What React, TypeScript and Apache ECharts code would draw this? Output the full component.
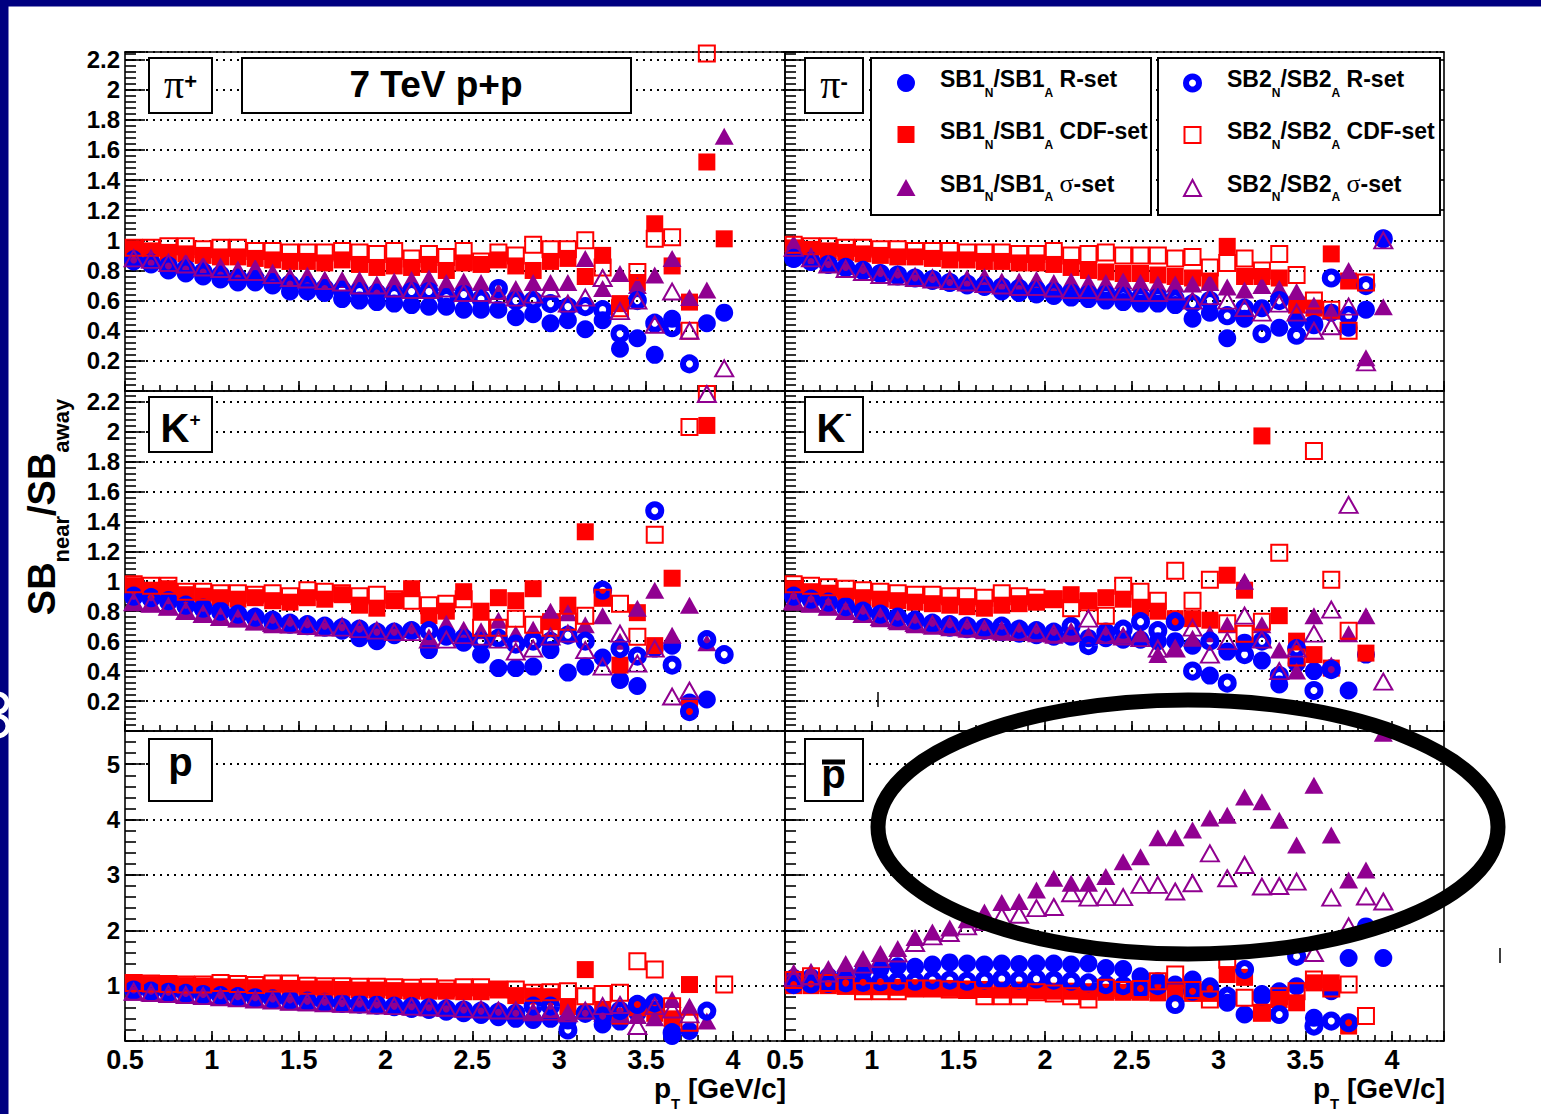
import React, { useEffect, useRef } from "react";
import * as echarts from "echarts";

// transverse momentum bin centres (GeV/c)
const PT = [0.55, 0.65, 0.75, 0.85, 0.95, 1.05, 1.15, 1.25, 1.35, 1.45, 1.55, 1.65, 1.75, 1.85, 1.95, 2.05, 2.15, 2.25, 2.35, 2.45, 2.55, 2.65, 2.75, 2.85, 2.95, 3.05, 3.15, 3.25, 3.35, 3.45, 3.55, 3.65, 3.75, 3.85, 3.95];

// ---- pi+ ----
const PIP_SB1_R = [0.86, 0.84, 0.80, 0.78, 0.76, 0.74, 0.72, 0.72, 0.70, 0.66, 0.66, 0.65, 0.61, 0.60, 0.59, 0.58, 0.57, 0.56, 0.56, 0.54, 0.54, 0.54, 0.49, 0.51, 0.45, 0.47, 0.41, 0.47, 0.28, 0.35, 0.24, 0.48, null, 0.45, 0.52];
const PIP_SB1_CDF = [0.94, 0.93, 0.92, 0.91, 0.90, 0.89, 0.89, 0.88, 0.87, 0.86, 0.86, 0.85, 0.87, 0.84, 0.82, 0.83, 0.82, 0.84, 0.80, 0.85, 0.84, 0.87, 0.83, 0.80, 0.86, 0.88, 0.76, 0.90, 0.58, 0.72, 1.11, 0.83, 0.59, 1.52, 1.01];
const PIP_SB1_SIG = [0.89, 0.89, 0.86, 0.86, 0.84, 0.83, 0.81, 0.82, 0.79, 0.76, 0.77, 0.74, 0.74, 0.74, 0.70, 0.73, 0.74, 0.75, 0.72, 0.73, 0.72, 0.66, 0.68, 0.72, 0.72, 0.72, 0.88, 0.68, 0.78, 0.70, 0.77, 0.88, 0.62, 0.67, 1.69];
const PIP_SB2_R = [0.87, 0.85, 0.83, 0.81, 0.79, 0.77, 0.75, 0.74, 0.72, 0.71, 0.70, 0.68, 0.67, 0.66, 0.65, 0.64, 0.66, 0.66, 0.62, 0.64, 0.61, 0.68, 0.60, 0.60, 0.58, 0.56, 0.56, 0.54, 0.38, 0.60, 0.45, 0.42, 0.18, null, null];
const PIP_SB2_CDF = [0.95, 0.95, 0.96, 0.96, 0.94, 0.95, 0.95, 0.93, 0.93, 0.92, 0.92, 0.92, 0.93, 0.92, 0.91, 0.93, 0.88, 0.91, 0.89, 0.93, 0.86, 0.92, 0.90, 0.97, 0.94, 0.94, 1.00, 0.82, 0.55, 0.79, 1.01, 1.02, 0.40, 2.24, null];
const PIP_SB2_SIG = [0.88, 0.87, 0.85, 0.84, 0.82, 0.81, 0.79, 0.79, 0.77, 0.75, 0.74, 0.73, 0.72, 0.70, 0.70, 0.68, 0.67, 0.67, 0.68, 0.65, 0.65, 0.64, 0.62, 0.64, 0.68, 0.58, 0.62, 0.75, 0.53, 0.60, 0.44, 0.66, 0.40, null, 0.15];

// ---- pi- ----
const PIM_SB1_R = [0.88, 0.86, 0.84, 0.82, 0.80, 0.78, 0.76, 0.75, 0.73, 0.72, 0.70, 0.69, 0.66, 0.65, 0.64, 0.63, 0.62, 0.61, 0.60, 0.59, 0.58, 0.58, 0.57, 0.48, 0.52, 0.35, 0.48, 0.55, 0.42, 0.47, 0.45, 0.52, 0.42, 0.54, 1.01];
const PIM_SB1_CDF = [0.95, 0.94, 0.93, 0.92, 0.91, 0.90, 0.89, 0.89, 0.88, 0.87, 0.87, 0.86, 0.86, 0.85, 0.85, 0.84, 0.82, 0.80, 0.79, 0.78, 0.78, 0.77, 0.76, 0.75, 0.73, 0.96, 0.76, 0.76, 0.75, 0.57, 0.55, 0.91, 0.73, null, null];
const PIM_SB1_SIG = [0.98, 0.90, 0.85, 0.83, 0.81, 0.79, 0.78, 0.77, 0.76, 0.75, 0.75, 0.76, 0.73, 0.73, 0.74, 0.72, 0.73, 0.72, 0.72, 0.73, 0.72, 0.71, 0.71, 0.71, 0.72, 0.69, 0.67, 0.70, 0.68, 0.66, 0.57, 0.53, 0.80, 0.22, 0.56];
const PIM_SB2_R = [0.88, 0.86, 0.84, 0.82, 0.80, 0.78, 0.77, 0.75, 0.74, 0.72, 0.71, 0.70, 0.69, 0.68, 0.67, 0.66, 0.65, 0.64, 0.64, 0.63, 0.62, 0.62, 0.61, 0.58, 0.60, 0.50, 0.55, 0.38, 0.60, 0.37, 0.44, 0.75, 0.50, 0.70, 1.01];
const PIM_SB2_CDF = [0.97, 0.96, 0.96, 0.95, 0.95, 0.94, 0.94, 0.93, 0.93, 0.93, 0.92, 0.92, 0.92, 0.91, 0.91, 0.93, 0.90, 0.91, 0.92, 0.90, 0.90, 0.90, 0.88, 0.89, 0.82, 0.85, 0.88, 0.80, 0.91, 0.77, 0.60, 0.54, 0.40, 0.72, null];
const PIM_SB2_SIG = [0.95, 0.88, 0.84, 0.81, 0.79, 0.77, 0.76, 0.75, 0.74, 0.73, 0.72, 0.71, 0.70, 0.69, 0.69, 0.68, 0.67, 0.67, 0.66, 0.66, 0.65, 0.65, 0.66, 0.60, 0.63, 0.60, 0.55, 0.52, 0.58, 0.52, 0.40, 0.43, 0.56, 0.19, 1.00];

// ---- K+ ----
const KP_SB1_R = [0.89, 0.88, 0.86, 0.83, 0.81, 0.79, 0.77, 0.75, 0.72, 0.71, 0.70, 0.69, 0.67, 0.62, 0.60, 0.64, 0.67, 0.54, 0.63, 0.59, 0.51, 0.42, 0.42, 0.43, 0.54, 0.39, 0.43, 0.49, 0.34, 0.30, 0.55, 0.57, 0.19, 0.21, null];
const KP_SB1_CDF = [0.97, 0.94, 0.95, 0.91, 0.90, 0.89, 0.88, 0.89, 0.87, 0.86, 0.89, 0.88, 0.91, 0.84, 0.82, 0.87, 0.95, 0.77, 0.80, 0.93, 0.80, 0.89, 0.87, 0.95, 0.73, 0.84, 1.33, 0.89, 0.44, 0.79, 0.57, 1.02, 0.15, 2.04, null];
const KP_SB1_SIG = [0.86, 0.85, 0.83, 0.80, 0.78, 0.76, 0.75, 0.73, 0.71, 0.71, 0.70, 0.70, 0.71, 0.68, 0.67, 0.67, 0.68, 0.63, 0.72, 0.68, 0.67, 0.74, 0.65, 0.68, 0.80, 0.79, 0.71, 0.77, 0.60, 0.82, 0.94, 0.64, 0.84, 0.59, null];
const KP_SB2_R = [0.90, 0.89, 0.87, 0.84, 0.82, 0.80, 0.78, 0.76, 0.74, 0.72, 0.71, 0.70, 0.69, 0.68, 0.66, 0.66, 0.67, 0.67, 0.64, 0.62, 0.60, 0.62, 0.58, 0.60, 0.60, 0.64, 0.60, 0.94, 0.55, 0.50, 1.47, 0.44, 0.13, 0.61, 0.51];
const KP_SB2_CDF = [0.98, 0.97, 0.97, 0.93, 0.93, 0.92, 0.92, 0.91, 0.92, 0.90, 0.94, 0.93, 0.92, 0.90, 0.91, 0.88, 0.87, 0.84, 0.85, 0.88, 0.69, 0.69, 0.75, 0.71, 0.69, 0.73, 0.77, 0.89, 0.85, 0.63, 1.31, null, 2.03, 2.25, null];
const KP_SB2_SIG = [0.86, 0.85, 0.83, 0.80, 0.78, 0.76, 0.75, 0.73, 0.72, 0.71, 0.70, 0.69, 0.69, 0.68, 0.67, 0.66, 0.66, 0.61, 0.61, 0.64, 0.63, 0.61, 0.53, 0.55, 0.63, 0.65, 0.54, 0.43, 0.65, 0.45, 0.55, 0.23, 0.27, 2.25, null];

// ---- K- ----
const KM_SB1_R = [0.89, 0.87, 0.85, 0.82, 0.79, 0.77, 0.75, 0.73, 0.71, 0.69, 0.68, 0.67, 0.66, 0.65, 0.64, 0.63, 0.63, 0.62, 0.62, 0.61, 0.61, 0.60, 0.60, 0.57, 0.37, 0.53, 0.59, 0.47, 0.31, 0.45, 0.40, 0.42, 0.27, 0.51, null];
const KM_SB1_CDF = [0.95, 0.93, 0.92, 0.90, 0.89, 0.88, 0.87, 0.86, 0.85, 0.84, 0.83, 0.82, 0.84, 0.85, 0.86, 0.88, 0.91, 0.87, 0.89, 0.88, 0.82, 0.80, 0.75, 0.75, 0.74, 1.04, 0.94, 1.97, 0.77, 0.60, 0.51, 0.42, null, 0.52, null];
const KM_SB1_SIG = [0.86, 0.85, 0.83, 0.80, 0.78, 0.75, 0.73, 0.71, 0.70, 0.69, 0.68, 0.67, 0.66, 0.66, 0.65, 0.64, 0.65, 0.64, 0.65, 0.64, 0.65, 0.51, 0.55, 0.62, 0.65, 0.71, 1.00, 0.71, 0.54, 0.40, 0.77, 0.44, 0.65, 0.77, null];
const KM_SB2_R = [0.90, 0.88, 0.86, 0.83, 0.80, 0.78, 0.76, 0.74, 0.72, 0.71, 0.70, 0.69, 0.70, 0.68, 0.67, 0.66, 0.70, 0.57, 0.66, 0.68, 0.73, 0.67, 0.73, 0.40, 0.60, 0.32, 0.51, 0.60, 0.37, 0.55, 0.27, 0.41, null, null, null];
const KM_SB2_CDF = [0.98, 0.97, 0.96, 0.95, 0.94, 0.93, 0.92, 0.91, 0.91, 0.90, 0.90, 0.89, 0.92, 0.90, 0.89, 0.88, 0.82, 0.86, 0.77, 0.97, 0.93, 0.87, 1.07, 0.87, 1.01, 0.72, 0.65, 0.73, 1.19, 0.49, 1.87, 1.01, 0.67, null, null];
const KM_SB2_SIG = [0.87, 0.85, 0.83, 0.80, 0.78, 0.76, 0.74, 0.72, 0.71, 0.70, 0.69, 0.68, 0.67, 0.66, 0.66, 0.65, 0.66, 0.75, 0.64, 0.63, 0.62, 0.55, 0.55, 0.69, 0.51, 0.60, 0.77, 0.61, 0.40, 0.55, 0.65, 0.81, 1.51, null, 0.33];

// ---- p ----
const P_SB1_R = [0.93, 0.91, 0.89, 0.87, 0.85, 0.83, 0.80, 0.78, 0.76, 0.74, 0.72, 0.70, 0.68, 0.66, 0.64, 0.61, 0.58, 0.56, 0.53, 0.50, 0.47, 0.43, 0.40, 0.38, 0.40, 0.37, 0.51, 0.30, 0.35, 0.50, 0.57, 0.09, 0.18, null, null];
const P_SB1_CDF = [1.03, 1.02, 1.01, 1.00, 0.99, 0.98, 0.97, 0.96, 0.96, 0.95, 0.94, 0.94, 0.93, 0.92, 0.92, 0.91, 0.90, 0.90, 0.90, 0.89, 0.89, 0.93, 0.82, 0.81, 0.80, 0.62, 1.29, 0.57, 0.45, 0.60, 0.50, 0.40, 1.02, null, null];
const P_SB1_SIG = [0.88, 0.86, 0.85, 0.83, 0.81, 0.79, 0.77, 0.75, 0.73, 0.71, 0.69, 0.68, 0.67, 0.66, 0.64, 0.63, 0.61, 0.60, 0.59, 0.58, 0.57, 0.57, 0.57, 0.53, 0.57, 0.50, 0.54, 0.50, 0.48, 0.46, 0.42, 0.75, 0.63, 0.36, null];
const P_SB2_R = [0.92, 0.90, 0.88, 0.86, 0.84, 0.82, 0.80, 0.78, 0.76, 0.74, 0.72, 0.70, 0.68, 0.67, 0.65, 0.63, 0.62, 0.60, 0.58, 0.56, 0.54, 0.52, 0.50, 0.63, 0.63, 0.20, 0.50, 0.45, 0.55, 0.66, 0.69, 0.15, null, 0.54, null];
const P_SB2_CDF = [1.05, 1.04, 1.03, 1.02, 1.02, 1.05, 1.03, 1.01, 1.04, 1.04, 1.00, 0.99, 0.99, 0.98, 0.98, 0.97, 0.96, 0.97, 0.95, 0.97, 0.97, 0.93, 0.93, 0.87, 0.88, 0.90, 0.81, 0.85, 0.87, 1.44, 1.29, 0.63, 0.33, null, 1.02];
const P_SB2_SIG = [0.89, 0.87, 0.85, 0.83, 0.81, 0.79, 0.77, 0.75, 0.73, 0.71, 0.70, 0.68, 0.67, 0.66, 0.64, 0.63, 0.62, 0.61, 0.60, 0.58, 0.57, 0.55, 0.55, 0.52, 0.53, 0.50, 0.55, 0.63, 0.65, 0.27, 0.63, 0.57, 0.48, null, null];

// ---- p-bar ----
const PB_SB1_R = [1.14, 1.15, 1.17, 1.20, 1.26, 1.30, 1.35, 1.34, 1.38, 1.42, 1.40, 1.38, 1.40, 1.39, 1.40, 1.40, 1.38, 1.40, 1.32, 1.30, 1.17, 1.08, 1.02, 1.11, 0.99, 0.69, 0.48, 0.85, 0.90, 0.99, 0.42, 0.90, 1.50, 2.07, 1.50];
const PB_SB1_CDF = [1.00, 1.00, 1.00, 0.99, 0.98, 0.98, 0.97, 0.96, 0.95, 0.95, 0.94, 0.93, 0.92, 0.92, 0.91, 0.90, 0.90, 0.89, 0.88, 0.88, 0.88, 0.87, 0.87, 0.86, 0.86, 1.20, 1.15, 0.51, 0.75, 0.69, 1.05, 1.05, 0.27, null, null];
const PB_SB1_SIG = [1.24, 1.26, 1.31, 1.40, 1.49, 1.58, 1.67, 1.87, 1.97, 2.04, 2.19, 2.33, 2.50, 2.52, 2.73, 2.94, 2.85, 2.85, 2.97, 3.24, 3.33, 3.67, 3.67, 3.81, 4.03, 4.08, 4.41, 4.32, 3.99, 3.54, 4.62, 3.72, 2.91, 3.09, 5.56];
const PB_SB2_R = [1.02, 1.03, 1.04, 1.05, 1.06, 1.07, 1.08, 1.08, 1.10, 1.10, 1.08, 1.10, 1.12, 1.10, 1.12, 1.10, 1.08, 1.05, 1.02, 1.00, 0.95, 1.00, 0.66, 0.90, 0.95, 0.81, 1.29, 0.81, 0.48, 1.53, 0.27, 0.36, 0.33, null, null];
const PB_SB2_CDF = [1.10, 1.17, 1.05, 1.00, 0.90, 0.90, 0.90, 0.95, 0.95, 0.93, 0.92, 0.81, 0.81, 0.81, 0.88, 0.86, 0.81, 0.75, 0.96, 0.92, 0.94, 1.08, 1.20, 0.92, 0.75, 1.47, 0.78, 0.51, 0.81, 0.90, 1.11, 0.95, 1.02, 0.45, null];
const PB_SB2_SIG = [1.14, 1.17, 1.22, 1.30, 1.38, 1.48, 1.58, 1.77, 1.89, 1.95, 2.07, 2.15, 2.25, 2.28, 2.40, 2.42, 2.67, 2.59, 2.60, 2.60, 2.82, 2.82, 2.70, 2.85, 3.39, 2.94, 3.18, 2.79, 2.80, 2.88, 1.59, 2.59, 2.07, 2.61, 2.52];

const SERIES_NAMES = ["SB1N/SB1A R-set", "SB1N/SB1A CDF-set", "SB1N/SB1A σ-set", "SB2N/SB2A R-set", "SB2N/SB2A CDF-set", "SB2N/SB2A σ-set"];

const PANELS = [
  { row: 0, col: 0, sets: [PIP_SB1_R, PIP_SB1_CDF, PIP_SB1_SIG, PIP_SB2_R, PIP_SB2_CDF, PIP_SB2_SIG] },
  { row: 0, col: 1, sets: [PIM_SB1_R, PIM_SB1_CDF, PIM_SB1_SIG, PIM_SB2_R, PIM_SB2_CDF, PIM_SB2_SIG] },
  { row: 1, col: 0, sets: [KP_SB1_R, KP_SB1_CDF, KP_SB1_SIG, KP_SB2_R, KP_SB2_CDF, KP_SB2_SIG] },
  { row: 1, col: 1, sets: [KM_SB1_R, KM_SB1_CDF, KM_SB1_SIG, KM_SB2_R, KM_SB2_CDF, KM_SB2_SIG] },
  { row: 2, col: 0, sets: [P_SB1_R, P_SB1_CDF, P_SB1_SIG, P_SB2_R, P_SB2_CDF, P_SB2_SIG] },
  { row: 2, col: 1, sets: [PB_SB1_R, PB_SB1_CDF, PB_SB1_SIG, PB_SB2_R, PB_SB2_CDF, PB_SB2_SIG] },
];

// axis ranges
const X_MIN = 0.5;
const X_MAX = 4.3;
const ROW_YMAX = [2.25, 2.27, 5.6];
const ROW_MAJOR = [0.2, 0.2, 1];
const ROW_MINOR = [0.04, 0.04, 0.2];

// layout
const COL_LEFT = [125, 785];
const COL_WIDTH = [660, 659];
const ROW_TOP = [52, 391, 731];
const ROW_HEIGHT = [339, 340, 310];

const BLUE = "#0000ff";
const RED = "#ff0000";
const PURPLE = "#900090";
const NAVY = "#000080";
const FONT = "'Liberation Sans', Arial, Helvetica, sans-serif";
const SERIF = "'Liberation Serif', 'DejaVu Serif', serif";
const CLEAR = "rgba(255,255,255,0)";

const MARKERS: any[] = [
  { symbol: "circle", symbolSize: 18, itemStyle: { color: BLUE, opacity: 1 } },
  { symbol: "rect", symbolSize: 17, itemStyle: { color: RED, opacity: 1 } },
  { symbol: "triangle", symbolSize: [19, 17], itemStyle: { color: PURPLE, opacity: 1 } },
  { symbol: "circle", symbolSize: 13, itemStyle: { color: CLEAR, borderColor: BLUE, borderWidth: 6, opacity: 1 } },
  { symbol: "rect", symbolSize: 16, itemStyle: { color: CLEAR, borderColor: RED, borderWidth: 2, opacity: 1 } },
  { symbol: "triangle", symbolSize: [18, 16], itemStyle: { color: CLEAR, borderColor: PURPLE, borderWidth: 2, opacity: 1 } },
];

const toPoints = (vals: (number | null)[]) =>
  PT.map((x, i) => [x, vals[i]]).filter((d) => d[1] !== null && d[1] !== undefined);

const fmtX = (v: number) => (v > 4.05 ? "" : String(Math.round(v * 10) / 10));
const fmtY = (step: number) => (v: number) => {
  const k = v / step;
  if (v < step * 0.5 || Math.abs(k - Math.round(k)) > 1e-6) return "";
  return String(Math.round(v * 10) / 10);
};

function box(x: number, y: number, w: number, h: number) {
  return { type: "rect", z: 100, shape: { x, y, width: w, height: h }, style: { fill: "#fff", stroke: "#000", lineWidth: 2 } };
}

const LAB_RICH = {
  g: { fontFamily: SERIF, fontSize: 40, height: 40, verticalAlign: "top", fill: "#000" },
  k: { fontFamily: FONT, fontWeight: "bold", fontSize: 40, height: 40, verticalAlign: "top", fill: "#000" },
  supP: { fontFamily: FONT, fontWeight: "bold", fontSize: 22, height: 34, verticalAlign: "top", fill: "#000" },
  supK: { fontFamily: FONT, fontWeight: "bold", fontSize: 19, height: 23, verticalAlign: "top", fill: "#000" },
  supM: { fontFamily: FONT, fontWeight: "bold", fontSize: 19, height: 12, verticalAlign: "top", fill: "#000" },
};

const LEG_RICH = {
  m: { fontFamily: FONT, fontWeight: "bold", fontSize: 23, height: 23, verticalAlign: "top", fill: "#000" },
  s: { fontFamily: FONT, fontWeight: "bold", fontSize: 12, height: 50, verticalAlign: "top", fill: "#000" },
  g: { fontFamily: SERIF, fontSize: 26, height: 23, verticalAlign: "top", fill: "#000" },
};

function richText(x: number, y: number, text: string, rich: any, align = "center", extra: any = {}) {
  return { type: "text", z: 101, x, y, ...extra, style: { text, rich, align, verticalAlign: "top", fill: "#000" } };
}

function buildGraphic() {
  const els: any[] = [];
  // slide frame
  els.push({ type: "rect", z: 200, shape: { x: 0, y: 0, width: 1541, height: 6.5 }, style: { fill: NAVY } });
  els.push({ type: "rect", z: 200, shape: { x: 0, y: 0, width: 8.5, height: 1114 }, style: { fill: NAVY } });
  // fragment of a white slide glyph peeking in on the left border
  els.push({ type: "arc", z: 201, shape: { cx: -2, cy: 703, r: 9, startAngle: -Math.PI / 2, endAngle: Math.PI / 2 }, style: { stroke: "#fff", lineWidth: 5, fill: "none" } });
  els.push({ type: "arc", z: 201, shape: { cx: -2, cy: 726, r: 10, startAngle: -Math.PI / 2, endAngle: Math.PI / 2 }, style: { stroke: "#fff", lineWidth: 5, fill: "none" } });

  // panel label boxes
  els.push(box(149, 58, 63, 55));
  els.push(richText(180.5, 64.7, "{g|π}{supP|+}", LAB_RICH));
  els.push(box(242, 58, 389, 55));
  els.push({ type: "text", z: 101, x: 436, y: 84.5, style: { text: "7 TeV p+p", fontFamily: FONT, fontWeight: "bold", fontSize: 37, fill: "#000", align: "center", verticalAlign: "middle" } });
  els.push(box(805, 58, 58, 55));
  els.push(richText(834, 64.7, "{g|π}{supP|-}", LAB_RICH));
  els.push(box(149, 397, 63, 55));
  els.push(richText(180.5, 407.5, "{k|K}{supK|+}", LAB_RICH));
  els.push(box(805, 397, 58, 55));
  els.push(richText(834, 407.5, "{k|K}{supM|-}", LAB_RICH));
  els.push(box(149, 739, 63, 62));
  els.push(richText(180.5, 742, "{k|p}", LAB_RICH));
  els.push(box(805, 739, 58, 62));
  els.push(richText(833.5, 754, "{k|p}", LAB_RICH));
  els.push({ type: "rect", z: 102, shape: { x: 822, y: 759.5, width: 23, height: 5 }, style: { fill: "#000" } });

  // legend boxes
  els.push(box(871, 58, 280, 157));
  els.push(box(1158, 58, 282, 157));
  const textRows = [79, 131, 183.5];
  const labels = ["R-set", "CDF-set", "σ"];
  [0, 1].forEach((b) => {
    const n = b === 0 ? "1" : "2";
    const tx = b === 0 ? 940 : 1227;
    textRows.forEach((ty, r) => {
      const tail = r === 2 ? "{m| }{g|σ}{m|-set}" : `{m| ${labels[r]}}`;
      els.push(richText(tx, ty - 11.5, `{m|SB${n}}{s|N}{m|/SB${n}}{s|A}${tail}`, LEG_RICH, "left"));
    });
  });
  // legend markers
  els.push({ type: "circle", z: 102, shape: { cx: 906, cy: 83, r: 9 }, style: { fill: BLUE } });
  els.push({ type: "rect", z: 102, shape: { x: 897.5, y: 126, width: 17, height: 17 }, style: { fill: RED } });
  els.push({ type: "polygon", z: 102, shape: { points: [[906, 179], [896.5, 196], [915.5, 196]] }, style: { fill: PURPLE } });
  els.push({ type: "circle", z: 102, shape: { cx: 1192.5, cy: 83, r: 6.5 }, style: { fill: "none", stroke: BLUE, lineWidth: 6 } });
  els.push({ type: "rect", z: 102, shape: { x: 1184.5, y: 127, width: 16, height: 16 }, style: { fill: "none", stroke: RED, lineWidth: 2 } });
  els.push({ type: "polygon", z: 102, shape: { points: [[1192.5, 180], [1184, 196], [1201, 196]] }, style: { fill: "none", stroke: PURPLE, lineWidth: 2 } });

  // axis titles
  const YT_RICH = {
    m: { fontFamily: FONT, fontWeight: "bold", fontSize: 38, height: 38, verticalAlign: "top", fill: "#000" },
    s: { fontFamily: FONT, fontWeight: "bold", fontSize: 22, height: 76, verticalAlign: "top", fill: "#000" },
  };
  els.push(richText(23, 507, "{m|SB}{s|near}{m|/SB}{s|away}", YT_RICH, "center", { rotation: Math.PI / 2 }));
  const XT_RICH = {
    m: { fontFamily: FONT, fontWeight: "bold", fontSize: 28, height: 28, verticalAlign: "top", fill: "#000" },
    s: { fontFamily: FONT, fontWeight: "bold", fontSize: 15, height: 58, verticalAlign: "top", fill: "#000" },
  };
  els.push(richText(786, 1074, "{m|p}{s|T}{m| [GeV/c]}", XT_RICH, "right"));
  els.push(richText(1445, 1074, "{m|p}{s|T}{m| [GeV/c]}", XT_RICH, "right"));

  // hand-drawn highlight
  els.push({ type: "ellipse", z: 150, shape: { cx: 1188, cy: 827, rx: 310, ry: 127 }, style: { fill: "none", stroke: "#000", lineWidth: 15 } });
  els.push({ type: "line", z: 150, shape: { x1: 878, y1: 692, x2: 878, y2: 707 }, style: { stroke: "#000", lineWidth: 1.5 } });
  els.push({ type: "line", z: 150, shape: { x1: 1500, y1: 948, x2: 1500, y2: 963 }, style: { stroke: "#000", lineWidth: 1.5 } });
  return els;
}

function buildOption() {
  const grid: any[] = [];
  const xAxis: any[] = [];
  const yAxis: any[] = [];
  const series: any[] = [];
  const lineStyle = { color: "#000", width: 1.6 };
  PANELS.forEach((p, g) => {
    const left = COL_LEFT[p.col];
    const width = COL_WIDTH[p.col];
    const top = ROW_TOP[p.row];
    const height = ROW_HEIGHT[p.row];
    const yMax = ROW_YMAX[p.row];
    const major = ROW_MAJOR[p.row];
    const minor = ROW_MINOR[p.row];
    const isBottom = p.row === 2;
    const isLeft = p.col === 0;
    grid.push({ left, top, width, height, containLabel: false, outerBoundsMode: "none", show: false });
    xAxis.push(
      {
        gridIndex: g, type: "value", position: "bottom", min: X_MIN, max: X_MAX, interval: 0.5,
        axisLine: { show: true, onZero: false, lineStyle },
        axisTick: { show: true, inside: true, length: 10, lineStyle },
        axisLabel: { show: isBottom, margin: 5, color: "#000", fontFamily: FONT, fontWeight: "bold", fontSize: 27, formatter: fmtX },
        splitLine: { show: false },
      },
      {
        gridIndex: g, type: "value", position: "bottom", min: X_MIN, max: X_MAX, interval: 0.1,
        axisLine: { show: false, onZero: false },
        axisTick: { show: true, inside: true, length: 6, lineStyle },
        axisLabel: { show: false },
        splitLine: { show: false },
      },
      {
        gridIndex: g, type: "value", position: "top", min: X_MIN, max: X_MAX, interval: 0.5,
        axisLine: { show: true, onZero: false, lineStyle },
        axisTick: { show: false },
        axisLabel: { show: false },
        splitLine: { show: false },
      }
    );
    yAxis.push(
      {
        gridIndex: g, type: "value", position: "left", min: 0, max: yMax, interval: major,
        axisLine: { show: true, onZero: false, lineStyle },
        axisTick: { show: true, inside: true, length: 20, lineStyle },
        axisLabel: { show: isLeft, margin: 5, color: "#000", fontFamily: FONT, fontWeight: "bold", fontSize: 24, formatter: fmtY(major) },
        splitLine: { show: true, lineStyle: { color: "#000", width: 1.8, type: [2, 5] } },
      },
      {
        gridIndex: g, type: "value", position: "left", min: 0, max: yMax, interval: minor,
        axisLine: { show: false, onZero: false },
        axisTick: { show: true, inside: true, length: 11, lineStyle },
        axisLabel: { show: false },
        splitLine: { show: false },
      },
      {
        gridIndex: g, type: "value", position: "right", min: 0, max: yMax, interval: major,
        axisLine: { show: true, onZero: false, lineStyle },
        axisTick: { show: true, inside: true, length: 4, lineStyle },
        axisLabel: { show: false },
        splitLine: { show: false },
      }
    );
    p.sets.forEach((vals, k) => {
      series.push({
        type: "scatter",
        name: SERIES_NAMES[k],
        xAxisIndex: 3 * g,
        yAxisIndex: 3 * g,
        data: toPoints(vals as (number | null)[]),
        silent: true,
        ...MARKERS[k],
      });
    });
  });
  return {
    animation: false,
    backgroundColor: "#ffffff",
    grid,
    xAxis,
    yAxis,
    series,
    graphic: { elements: buildGraphic() },
  };
}

export default function App() {
  const ref = useRef<HTMLDivElement>(null);
  useEffect(() => {
    if (!ref.current) return;
    const chart = echarts.init(ref.current, null, { renderer: "svg" });
    chart.setOption(buildOption() as any);
    return () => chart.dispose();
  }, []);
  return (
    <div
      ref={ref}
      style={{ position: "absolute", left: 0, top: 0, width: 1541, height: 1114, background: "#fff" }}
    />
  );
}
